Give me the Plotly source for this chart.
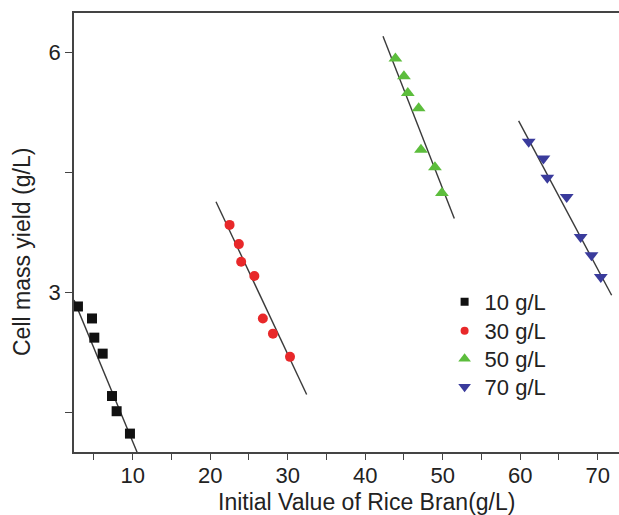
import plotly.graph_objects as go

# ---- data ----
series_names = ["10 g/L", "30 g/L", "50 g/L", "70 g/L"]

x_10 = [2.94, 4.75, 5.05, 6.13, 7.33, 7.93, 9.65]
y_10 = [2.82, 2.67, 2.43, 2.23, 1.70, 1.51, 1.23]

x_30 = [22.5, 23.7, 24.0, 25.7, 26.8, 28.1, 30.3]
y_30 = [3.84, 3.60, 3.38, 3.20, 2.67, 2.48, 2.19]

x_50 = [43.9, 45.0, 45.5, 46.9, 47.2, 49.0, 49.9]
y_50 = [5.92, 5.70, 5.49, 5.30, 4.78, 4.56, 4.24]

x_70 = [61.1, 63.0, 63.5, 66.0, 67.8, 69.2, 70.4]
y_70 = [4.88, 4.67, 4.43, 4.19, 3.69, 3.46, 3.19]

# fitted lines (start/end values)
fit_x_start = [2.43, 20.75, 42.3, 59.8]
fit_x_end = [10.6, 32.45, 51.5, 71.8]
fit_y_start = [2.90, 4.13, 6.20, 5.14]
fit_y_end = [0.99, 1.72, 3.92, 2.96]

x_tick_vals = [10, 20, 30, 40, 50, 60, 70]
y_tick_vals = [3, 6]

x_title = "Initial Value of Rice Bran(g/L)"
y_title = "Cell mass yield (g/L)"

colors = ["#111111", "#e8282a", "#5cbd3c", "#3a3b9c"]
symbols = ["square", "circle", "triangle-up", "triangle-down"]
marker_sizes = [10, 10, 12, 12]
legend_marker_sizes = [8, 8, 11, 11]
xs = [x_10, x_30, x_50, x_70]
ys = [y_10, y_30, y_50, y_70]

FONT = "Liberation Sans, Arial, sans-serif"
FS = 22
TITLE_FS = 23

fig = go.Figure()

for i in range(4):
    fig.add_trace(go.Scatter(
        x=[fit_x_start[i], fit_x_end[i]],
        y=[fit_y_start[i], fit_y_end[i]],
        mode="lines",
        line=dict(color="#3a3a3a", width=1.4),
        showlegend=False,
        hoverinfo="skip",
    ))

legend_ids = ["legend", "legend2", "legend3", "legend4"]
for i in range(4):
    fig.add_trace(go.Scatter(
        x=xs[i], y=ys[i],
        mode="markers",
        name=series_names[i],
        legendgroup=series_names[i],
        showlegend=False,
        marker=dict(symbol=symbols[i], color=colors[i], size=marker_sizes[i],
                    line=dict(width=0)),
    ))
    # legend entry (smaller legend symbol as in the reference)
    fig.add_trace(go.Scatter(
        x=[None], y=[None],
        mode="markers",
        name=series_names[i],
        legendgroup=series_names[i],
        legend=legend_ids[i],
        showlegend=True,
        marker=dict(symbol=symbols[i], color=colors[i], size=legend_marker_sizes[i],
                    line=dict(width=0)),
    ))

legend_common = dict(
    xanchor="left", yanchor="middle",
    bgcolor="rgba(0,0,0,0)",
    font=dict(family=FONT, size=FS, color="#222222"),
)
# row centres in pixels (from top) -> paper coords; plot spans 13..452
row_px = [302, 331, 359, 387]
leg_x = 0.68
legends = {}
for i, lid in enumerate(legend_ids):
    legends[lid] = dict(legend_common, x=leg_x, y=(452 - row_px[i]) / 439)

fig.update_layout(
    width=619, height=515,
    margin=dict(l=74, r=0, t=13, b=63),
    paper_bgcolor="white",
    plot_bgcolor="white",
    font=dict(family=FONT, size=FS, color="#222222"),
    showlegend=True,
    **legends,
    xaxis=dict(
        range=[2.43, 72.75],
        tickvals=x_tick_vals,
        ticks="outside", ticklen=6, tickwidth=1.3, tickcolor="#444444",
        ticklabelstandoff=-3,
        minor=dict(dtick=5, tick0=0, ticks="outside", ticklen=6, tickwidth=1.3, tickcolor="#444444", showgrid=False),
        showline=True, linecolor="#444444", linewidth=1.5, mirror=True,
        showgrid=False, zeroline=False, automargin=False,
        tickfont=dict(size=FS),
    ),
    yaxis=dict(
        range=[1.0, 6.49],
        tickvals=y_tick_vals,
        ticks="outside", ticklen=7, tickwidth=1.3, tickcolor="#444444",
        minor=dict(tickvals=[1.5, 4.5], ticks="outside", ticklen=7, tickwidth=1.3, tickcolor="#444444", showgrid=False),
        showline=True, linecolor="#444444", linewidth=1.5, mirror=False,
        showgrid=False, zeroline=False, automargin=False,
        tickfont=dict(size=FS),
    ),
    annotations=[
        dict(text=x_title, xref="paper", yref="paper",
             x=(366.5 - 74) / 545, y=0, xanchor="center", yanchor="top",
             yshift=-35, showarrow=False,
             font=dict(family=FONT, size=TITLE_FS, color="#222222")),
        dict(text=y_title, xref="paper", yref="paper",
             x=(22 - 74) / 545, y=(452 - 252) / 439, xanchor="center", yanchor="middle",
             textangle=-90, showarrow=False,
             font=dict(family=FONT, size=TITLE_FS, color="#222222")),
    ],
)

fig.write_html("out.html", post_script="document.body.style.margin='0';",
               config={"displayModeBar": False})
